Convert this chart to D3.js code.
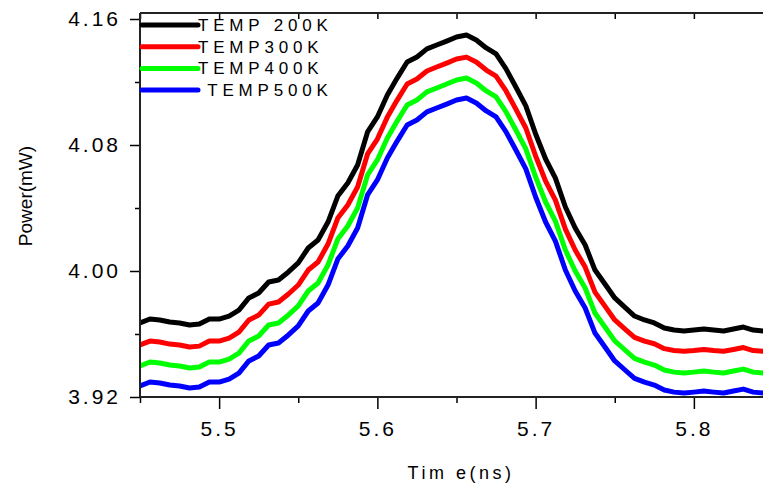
<!DOCTYPE html>
<html>
<head>
<meta charset="utf-8">
<script src="https://cdn.jsdelivr.net/npm/d3@7"></script>
<style>
  body { margin: 0; background: #fff; }
  svg { display: block; font-family: Arial, "Liberation Sans", sans-serif; }
</style>
</head>
<body>
<figure style="margin:0"></figure>
<script>
// time samples (ns)
const times = [5.4500, 5.4563, 5.4625, 5.4688, 5.4750, 5.4813, 5.4875, 5.4938, 5.5000, 5.5063,
  5.5125, 5.5188, 5.5250, 5.5313, 5.5375, 5.5438, 5.5500, 5.5563, 5.5625, 5.5688,
  5.5750, 5.5813, 5.5875, 5.5938, 5.6000, 5.6063, 5.6125, 5.6188, 5.6250, 5.6313,
  5.6375, 5.6438, 5.6500, 5.6563, 5.6625, 5.6688, 5.6750, 5.6813, 5.6875, 5.6938,
  5.7000, 5.7063, 5.7125, 5.7188, 5.7250, 5.7313, 5.7375, 5.7438, 5.7500, 5.7563,
  5.7625, 5.7688, 5.7750, 5.7813, 5.7875, 5.7938, 5.8000, 5.8063, 5.8125, 5.8188,
  5.8250, 5.8313, 5.8375, 5.8438, 5.8500];

// power (mW) per temperature
const temp200 = [3.9670, 3.9695, 3.9689, 3.9676, 3.9670, 3.9657, 3.9663, 3.9695, 3.9695, 3.9714,
  3.9752, 3.9829, 3.9860, 3.9930, 3.9943, 3.9994, 4.0051, 4.0146, 4.0197, 4.0311,
  4.0476, 4.0559, 4.0673, 4.0883, 4.0978, 4.1117, 4.1225, 4.1327, 4.1359, 4.1410,
  4.1435, 4.1460, 4.1486, 4.1498, 4.1467, 4.1416, 4.1378, 4.1283, 4.1168, 4.1048,
  4.0870, 4.0711, 4.0590, 4.0406, 4.0273, 4.0165, 4.0006, 3.9917, 3.9829, 3.9771,
  3.9714, 3.9689, 3.9670, 3.9638, 3.9625, 3.9619, 3.9625, 3.9632, 3.9625, 3.9619,
  3.9632, 3.9644, 3.9625, 3.9619, 3.9619];
const temp300 = [3.9530, 3.9555, 3.9549, 3.9536, 3.9530, 3.9517, 3.9523, 3.9555, 3.9555, 3.9574,
  3.9612, 3.9689, 3.9720, 3.9790, 3.9803, 3.9854, 3.9911, 4.0006, 4.0057, 4.0171,
  4.0336, 4.0419, 4.0533, 4.0743, 4.0838, 4.0977, 4.1085, 4.1187, 4.1219, 4.1270,
  4.1295, 4.1320, 4.1346, 4.1358, 4.1327, 4.1276, 4.1238, 4.1143, 4.1028, 4.0908,
  4.0730, 4.0571, 4.0450, 4.0266, 4.0133, 4.0025, 3.9866, 3.9777, 3.9689, 3.9633,
  3.9578, 3.9555, 3.9538, 3.9507, 3.9495, 3.9490, 3.9495, 3.9502, 3.9495, 3.9490,
  3.9502, 3.9514, 3.9495, 3.9490, 3.9490];
const temp400 = [3.9397, 3.9422, 3.9416, 3.9403, 3.9397, 3.9384, 3.9390, 3.9422, 3.9422, 3.9441,
  3.9479, 3.9556, 3.9587, 3.9657, 3.9670, 3.9721, 3.9778, 3.9873, 3.9924, 4.0038,
  4.0203, 4.0286, 4.0400, 4.0610, 4.0705, 4.0844, 4.0952, 4.1054, 4.1086, 4.1137,
  4.1162, 4.1187, 4.1213, 4.1225, 4.1194, 4.1143, 4.1105, 4.1010, 4.0895, 4.0775,
  4.0597, 4.0438, 4.0317, 4.0133, 4.0000, 3.9892, 3.9733, 3.9644, 3.9556, 3.9500,
  3.9445, 3.9421, 3.9403, 3.9371, 3.9358, 3.9352, 3.9358, 3.9365, 3.9358, 3.9352,
  3.9365, 3.9377, 3.9358, 3.9352, 3.9352];
const temp500 = [3.9270, 3.9295, 3.9289, 3.9276, 3.9270, 3.9257, 3.9263, 3.9295, 3.9295, 3.9314,
  3.9352, 3.9429, 3.9460, 3.9530, 3.9543, 3.9594, 3.9651, 3.9746, 3.9797, 3.9911,
  4.0076, 4.0159, 4.0273, 4.0483, 4.0578, 4.0717, 4.0825, 4.0927, 4.0959, 4.1010,
  4.1035, 4.1060, 4.1086, 4.1098, 4.1067, 4.1016, 4.0978, 4.0883, 4.0768, 4.0648,
  4.0470, 4.0311, 4.0190, 4.0006, 3.9873, 3.9765, 3.9606, 3.9517, 3.9429, 3.9373,
  3.9318, 3.9294, 3.9276, 3.9244, 3.9231, 3.9225, 3.9231, 3.9238, 3.9231, 3.9225,
  3.9238, 3.9250, 3.9231, 3.9225, 3.9225];

const seriesNames = ['TEMP 200K', 'TEMP300K', 'TEMP400K', ' TEMP500K'];
const seriesColors = ['#000000', '#ff0000', '#00ff00', '#0000ff'];
const seriesValues = [temp200, temp300, temp400, temp500];

const xMajor = [5.5, 5.6, 5.7, 5.8];
const xMinor = [5.45, 5.55, 5.65, 5.75, 5.85];
const yMajor = [3.92, 4.00, 4.08, 4.16];
const yMinor = [3.96, 4.04, 4.12];

(() => {
  const totalWidth = 763;
  const totalHeight = 483;
  const left = 140, bottom = 397, top = 13;

  const svg = d3.select('figure').append('svg')
    .attr('width', totalWidth)
    .attr('height', totalHeight)
    .style('background-color', '#fff');

  const x = d3.scaleLinear().domain([5.45, 5.85]).range([left, left + 633]);
  const y = d3.scaleLinear().domain([3.92, 4.16]).range([bottom, 19]);

  svg.append('clipPath').attr('id', 'clip')
    .append('rect')
      .attr('x', left).attr('y', top)
      .attr('width', x.range()[1] - left)
      .attr('height', bottom - top);

  const line = d3.line()
    .x((d, i) => x(times[i]))
    .y((d) => y(d));

  const lines = svg.append('g').attr('clip-path', 'url(#clip)');
  seriesValues.forEach((vals, i) => {
    lines.append('path')
      .datum(vals)
      .attr('d', line)
      .attr('fill', 'none')
      .attr('stroke', seriesColors[i])
      .attr('stroke-width', 5)
      .attr('stroke-linejoin', 'round');
  });

  // axes
  const tickStyle = (g) => {
    g.select('.domain').remove();
    g.selectAll('.tick line').attr('stroke', '#000').attr('stroke-width', 1.5);
  };

  svg.append('g')
    .attr('transform', `translate(${left},0)`)
    .call(d3.axisLeft(y).tickValues(yMajor).tickSize(10).tickPadding(9)
      .tickFormat(d3.format('.2f')))
    .call(tickStyle)
    .call((g) => g.selectAll('text')
      .attr('fill', '#000')
      .style('font-size', '21px')
      .style('letter-spacing', '3px')
      .attr('dy', '0.33em'));

  svg.append('g')
    .attr('transform', `translate(${left},0)`)
    .call(d3.axisLeft(y).tickValues(yMinor).tickSize(5).tickFormat(''))
    .call(tickStyle);

  svg.append('g')
    .attr('transform', `translate(0,${bottom})`)
    .call(d3.axisBottom(x).tickValues(xMajor).tickSize(12).tickPadding(12)
      .tickFormat(d3.format('.1f')))
    .call(tickStyle)
    .call((g) => g.selectAll('text')
      .attr('fill', '#000')
      .style('font-size', '21px')
      .style('letter-spacing', '3px'));

  svg.append('g')
    .attr('transform', `translate(0,${bottom})`)
    .call(d3.axisBottom(x).tickValues(xMinor).tickSize(6).tickFormat(''))
    .call(tickStyle);

  svg.append('g')
    .attr('transform', `translate(0,${top})`)
    .call(d3.axisTop(x).tickValues(xMinor.concat(xMajor)).tickSize(-6).tickFormat(''))
    .call(tickStyle);

  // frame lines
  const frame = svg.append('g').attr('stroke', '#222').attr('stroke-width', 2);
  frame.append('line').attr('x1', left).attr('x2', left).attr('y1', top).attr('y2', bottom);
  frame.append('line').attr('x1', left).attr('x2', totalWidth).attr('y1', bottom).attr('y2', bottom);
  frame.append('line').attr('x1', left).attr('x2', totalWidth).attr('y1', top).attr('y2', top);

  // axis titles
  svg.append('text')
    .attr('x', 461).attr('y', 479)
    .attr('text-anchor', 'middle')
    .style('font-size', '18px')
    .style('letter-spacing', '3.5px')
    .style('white-space', 'pre')
    .text('Tim e(ns)');

  svg.append('text')
    .attr('transform', 'translate(32,196) rotate(-90)')
    .attr('text-anchor', 'middle')
    .style('font-size', '19px')
    .text('Power(mW)');

  // legend
  const legend = svg.append('g');
  seriesNames.forEach((name, i) => {
    const ly = 25 + i * 21.7;
    legend.append('line')
      .attr('x1', 142).attr('x2', 198)
      .attr('y1', ly).attr('y2', ly)
      .attr('stroke', seriesColors[i])
      .attr('stroke-width', 5)
      .attr('stroke-linecap', 'round');
    legend.append('text')
      .attr('x', 198).attr('y', ly)
      .attr('dy', '0.35em')
      .style('font-size', '17px')
      .style('letter-spacing', '4.8px')
      .style('white-space', 'pre')
      .text(name);
  });
})();
</script>
</body>
</html>
